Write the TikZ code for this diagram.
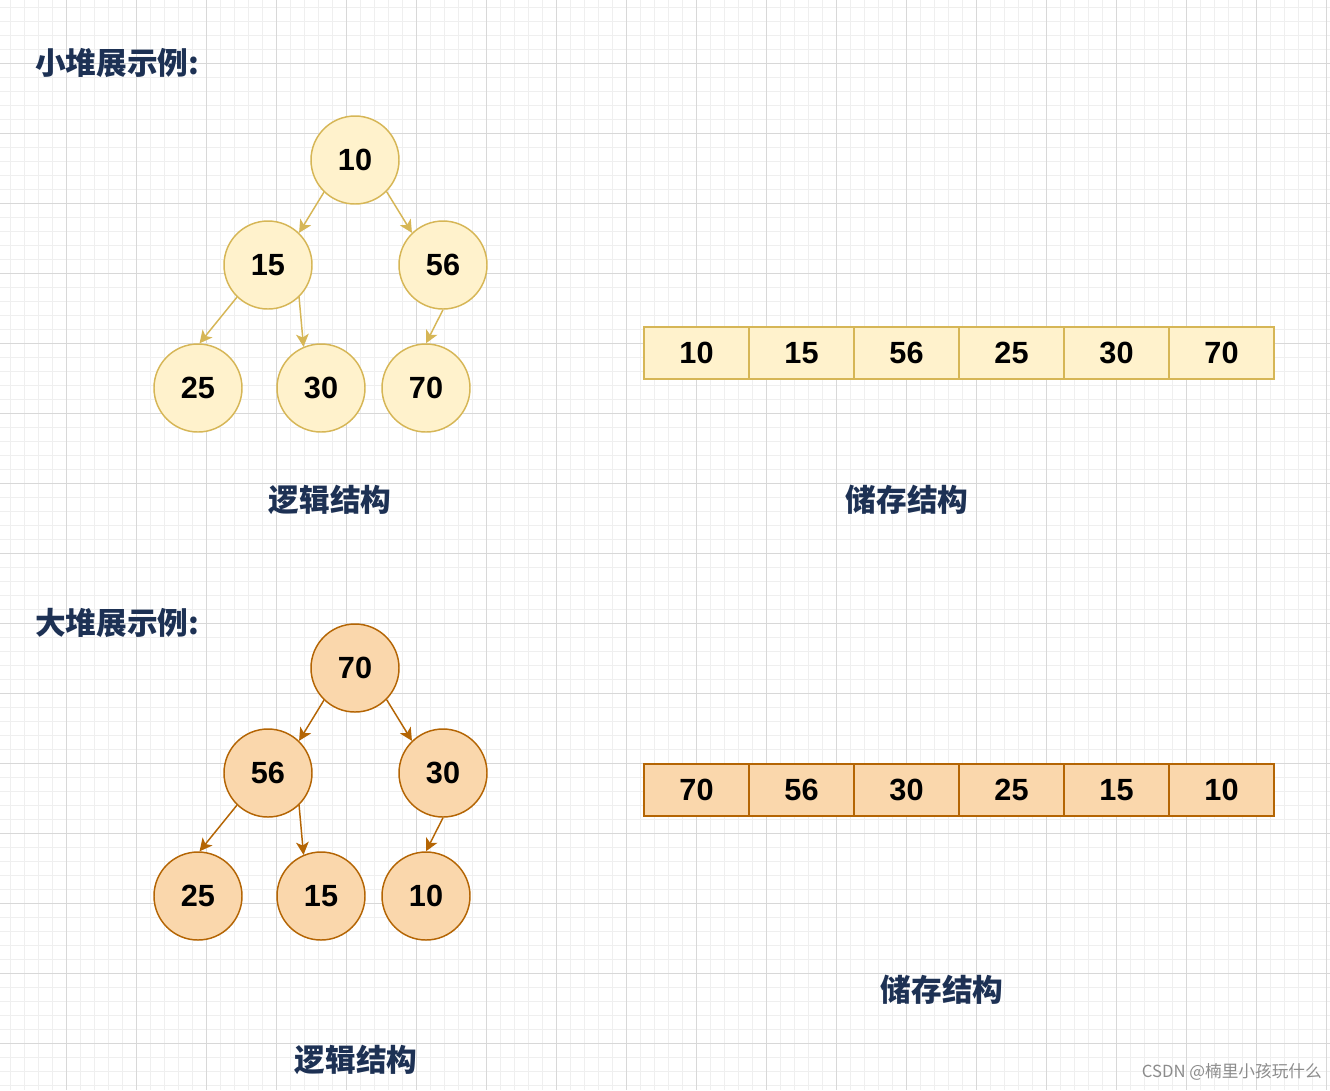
\documentclass[tikz,border=0pt]{standalone}
\usepackage{fontspec}
\setmainfont{Liberation Sans}
\newfontfamily\cjk{Noto Sans CJK SC}
\usetikzlibrary{arrows.meta}
\definecolor{fillA}{HTML}{FFF2CC}
\definecolor{drawA}{HTML}{D6B656}
\definecolor{fillB}{HTML}{FAD7AC}
\definecolor{drawB}{HTML}{B46504}
\definecolor{navy}{RGB}{29,49,84}
\definecolor{gridminor}{HTML}{EFEFEF}
\definecolor{gridmajor}{HTML}{D8D8D8}
\tikzset{
  numtext/.style={font=\fontsize{23}{24}\selectfont\bfseries, text=black},
  nodeA/.style={circle, draw=drawA, fill=fillA, line width=1.1pt, minimum size=66pt, inner sep=0pt, numtext},
  nodeB/.style={circle, draw=drawB, fill=fillB, line width=1.1pt, minimum size=66pt, inner sep=0pt, numtext},
  cellA/.style={rectangle, draw=drawA, fill=fillA, line width=1.1pt, minimum width=78.75pt, minimum height=39pt, inner sep=0pt, numtext},
  cellB/.style={rectangle, draw=drawB, fill=fillB, line width=1.1pt, minimum width=78.75pt, minimum height=39pt, inner sep=0pt, numtext},
  edgeA/.style={draw=drawA, line width=1.1pt, -{Stealth[length=9.5pt,width=9.5pt,inset=2.5pt]}},
  edgeB/.style={draw=drawB, line width=1.1pt, -{Stealth[length=9.5pt,width=9.5pt,inset=2.5pt]}},
  cjklabel/.style={font=\cjk\bfseries\fontsize{23}{25}\selectfont, text=navy, inner sep=0pt},
}
\begin{document}
\begin{tikzpicture}[x=0.75pt,y=-0.75pt]
\useasboundingbox (0,0) rectangle (1330,1090);
\fill[white] (0,0) rectangle (1330,1090);
% grid
\foreach \i in {0,...,94} \draw[gridminor, line width=0.75pt] ({10.7+14*\i},0) -- ({10.7+14*\i},1090);
\foreach \i in {0,...,77} \draw[gridminor, line width=0.75pt] (0,{7.3+14*\i}) -- (1330,{7.3+14*\i});
\foreach \i in {0,...,18} \draw[gridmajor, line width=0.75pt] ({66.7+70*\i},0) -- ({66.7+70*\i},1090);
\foreach \i in {0,...,14} \draw[gridmajor, line width=0.75pt] (0,{63.3+70*\i}) -- (1330,{63.3+70*\i});

% titles
\node[cjklabel, anchor=west] (t1) at (35,63) {小堆展示例:};
\node[cjklabel, anchor=west] (t2) at (35,623) {大堆展示例:};

% small heap tree
\node[nodeA] (a0) at (355,160) {10};
\node[nodeA] (a1) at (268,265) {15};
\node[nodeA] (a2) at (443,265) {56};
\node[nodeA] (a3) at (198,388) {25};
\node[nodeA] (a4) at (321,388) {30};
\node[nodeA] (a5) at (426,388) {70};
\draw[edgeA] (a0.226) -- (a1.46);
\draw[edgeA] (a0.315) -- (a2.134);
\draw[edgeA] (a1.226) -- (a3.88);
\draw[edgeA] (a1.314) -- (a4.113);
\draw[edgeA] (a2.270) -- (a5.90);

% small heap array
\foreach \v [count=\k from 0] in {10,15,56,25,30,70}
  \node[cellA] (sa\k) at ({696.5+105*\k},353) {\v};

\node[cjklabel] (l1) at (330,500) {逻辑结构};
\node[cjklabel] (l2) at (907,500) {储存结构};

% big heap tree
\node[nodeB] (b0) at (355,668) {70};
\node[nodeB] (b1) at (268,773) {56};
\node[nodeB] (b2) at (443,773) {30};
\node[nodeB] (b3) at (198,896) {25};
\node[nodeB] (b4) at (321,896) {15};
\node[nodeB] (b5) at (426,896) {10};
\draw[edgeB] (b0.226) -- (b1.46);
\draw[edgeB] (b0.315) -- (b2.134);
\draw[edgeB] (b1.226) -- (b3.88);
\draw[edgeB] (b1.314) -- (b4.113);
\draw[edgeB] (b2.270) -- (b5.90);

% big heap array
\foreach \v [count=\k from 0] in {70,56,30,25,15,10}
  \node[cellB] (ba\k) at ({696.5+105*\k},790) {\v};

\node[cjklabel] (l3) at (356,1060) {逻辑结构};
\node[cjklabel] (l4) at (942,990) {储存结构};

% watermark
\node[anchor=east, font=\cjk\fontsize{12.5}{14}\selectfont, text=black!45, inner sep=0pt] (wm) at (1322,1072) {CSDN @楠里小孩玩什么};
\end{tikzpicture}
\end{document}
